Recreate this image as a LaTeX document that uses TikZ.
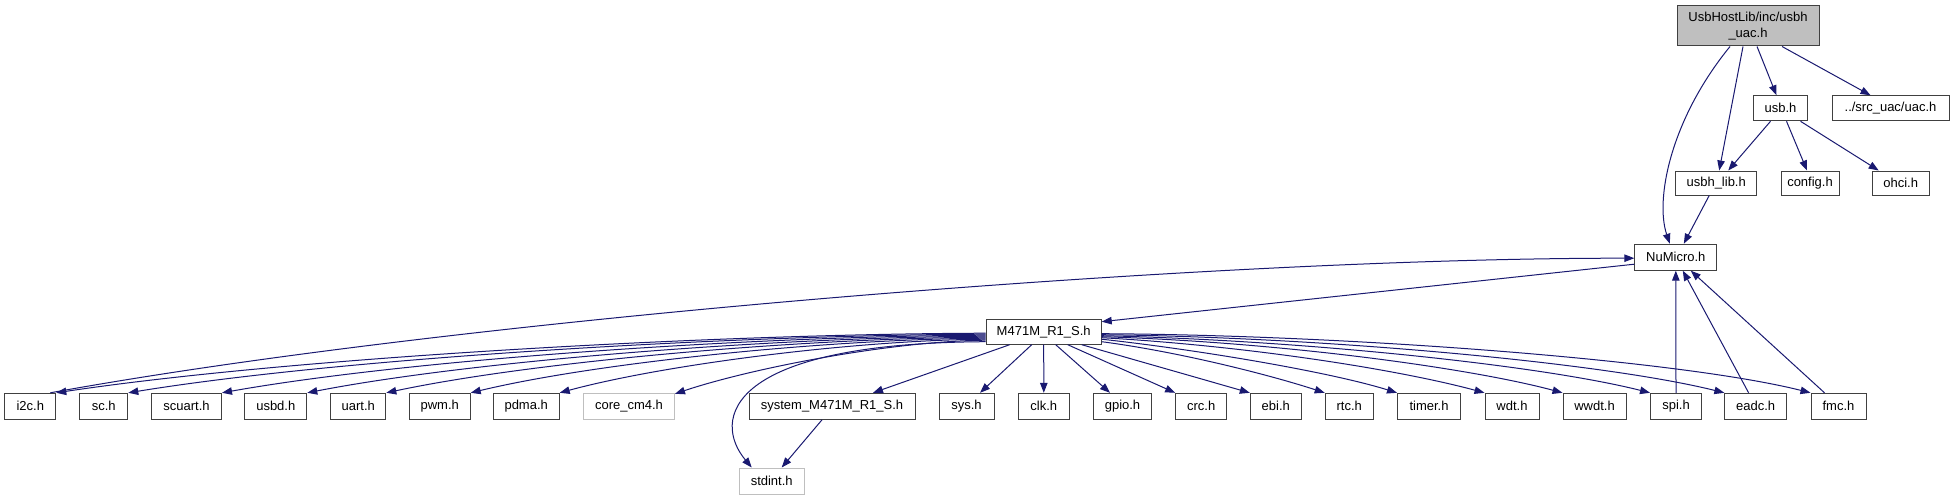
\documentclass[tikz,border=0pt]{standalone}
\usepackage{fontspec}
\setmainfont{Liberation Sans}
\usetikzlibrary{arrows.meta,calc}
\definecolor{edgec}{HTML}{191970}
\definecolor{boxc}{HTML}{404040}
\definecolor{lightc}{HTML}{BFBFBF}
\begin{document}
\begin{tikzpicture}[x=1pt,y=-1pt,
  box/.style={draw=boxc, fill=white, line width=1pt, inner sep=0pt, minimum height=26pt, font=\fontsize{13}{16}\selectfont},
  boxg/.style={box, draw=lightc},
  rootbox/.style={box, fill=lightc, align=center, minimum height=40pt},
  dep/.style={draw=edgec, line width=1pt, -{Triangle[length=10pt,width=7.5pt]}}]
\useasboundingbox (0,0) rectangle (1954,500);
% top part
\node[rootbox, minimum width=142pt] (root) at (1748,26) {UsbHostLib/inc/usbh\\\_uac.h};
\node[box, minimum width=54pt, minimum height=25pt] (usb) at (1780.5,108.3) {usb.h};
\node[box, minimum width=117pt, minimum height=25pt] (uac) at (1890.5,108.3) {../src\_uac/uac.h};
\node[box, minimum width=81pt, minimum height=24pt] (usbhlib) at (1716.2,183) {usbh\_lib.h};
\node[box, minimum width=58pt, minimum height=24pt] (config) at (1810,183) {config.h};
\node[box, minimum width=57pt, minimum height=24pt] (ohci) at (1900.7,183) {ohci.h};
\node[box, minimum width=82pt] (numicro) at (1675.8,257.2) {NuMicro.h};
\node[box, minimum width=115pt, minimum height=25pt] (m471) at (1043.7,331.7) {M471M\_R1\_S.h};
% bottom row
\node[box, minimum width=51pt] (i2c) at (30.3,406.3) {i2c.h};
\node[box, minimum width=48pt] (sc) at (103.8,406.3) {sc.h};
\node[box, minimum width=70pt] (scuart) at (186.5,406.3) {scuart.h};
\node[box, minimum width=62pt] (usbd) at (275.8,406.3) {usbd.h};
\node[box, minimum width=55pt] (uart) at (358.3,406.3) {uart.h};
\node[box, minimum width=61pt] (pwm) at (439.7,406.3) {pwm.h};
\node[box, minimum width=66pt] (pdma) at (526.2,406.3) {pdma.h};
\node[boxg, minimum width=91pt] (core) at (629,406.3) {core\_cm4.h};
\node[box, minimum width=166pt] (system) at (832,406.3) {system\_M471M\_R1\_S.h};
\node[box, minimum width=55pt] (sys) at (966.5,406.3) {sys.h};
\node[box, minimum width=51pt] (clk) at (1043.8,406.3) {clk.h};
\node[box, minimum width=58pt] (gpio) at (1122.5,406.3) {gpio.h};
\node[box, minimum width=51pt] (crc) at (1201.2,406.3) {crc.h};
\node[box, minimum width=51pt] (ebi) at (1275.8,406.3) {ebi.h};
\node[box, minimum width=48pt] (rtc) at (1349.2,406.3) {rtc.h};
\node[box, minimum width=63pt] (timer) at (1429,406.3) {timer.h};
\node[box, minimum width=54pt] (wdt) at (1512,406.3) {wdt.h};
\node[box, minimum width=63pt] (wwdt) at (1594.5,406.3) {wwdt.h};
\node[box, minimum width=51pt] (spi) at (1676,406.3) {spi.h};
\node[box, minimum width=61.5pt] (eadc) at (1755.6,406.3) {eadc.h};
\node[box, minimum width=55pt] (fmc) at (1838.5,406.3) {fmc.h};
\node[boxg, minimum width=65pt] (stdint) at (771.7,481) {stdint.h};
% top edges
\draw[dep] ($(root.south)+(-18,0)$) .. controls (1670,120) and (1655,200) .. ($(numicro.north)+(-6,0)$);
\draw[dep] ($(root.south)+(-5,0)$) -- ($(usbhlib.north)+(3,0)$);
\draw[dep] ($(root.south)+(9,0)$) -- ($(usb.north)+(-4,0)$);
\draw[dep] ($(root.south)+(34,0)$) -- ($(uac.north)+(-20,0)$);
\draw[dep] ($(usb.south)+(-10,0)$) -- ($(usbhlib.north)+(12,0)$);
\draw[dep] ($(usb.south)+(6,0)$) -- ($(config.north)+(-3,0)$);
\draw[dep] ($(usb.south)+(20,0)$) -- ($(ohci.north)+(-22,0)$);
\draw[dep] ($(usbhlib.south)+(-7,0)$) -- ($(numicro.north)+(8,0)$);
\draw[dep] ($(numicro.west)+(0,7)$) -- ($(m471.east)+(0,-10)$);
\draw[dep] ($(i2c.north east)+(-6,0)$) .. controls (450,320) and (1200,258) .. ($(numicro.west)+(0,1)$);
\draw[dep] (spi.north) -- (numicro.south);
\draw[dep] ($(eadc.north)+(-7,0)$) -- ($(numicro.south)+(7,0)$);
\draw[dep] ($(fmc.north)+(-14,0)$) -- ($(numicro.south)+(15,0)$);
% M471M to left
\draw[dep] ($(m471.west)+(0,1.5)$) .. controls (707,334) and (288,358) .. (i2c.north east);
\draw[dep] ($(m471.west)+(0,2.5)$) .. controls (729,335) and (342,358) .. (sc.north east);
\draw[dep] ($(m471.west)+(0,3.5)$) .. controls (756,336) and (412,359) .. (scuart.north east);
\draw[dep] ($(m471.west)+(0,4.5)$) .. controls (782,337) and (476,360) .. (usbd.north east);
\draw[dep] ($(m471.west)+(0,5.5)$) .. controls (806,338) and (536,361) .. (uart.north east);
\draw[dep] ($(m471.west)+(0,6.5)$) .. controls (831,339) and (599,362) .. (pwm.north east);
\draw[dep] ($(m471.west)+(0,7.5)$) .. controls (858,340) and (666,364) .. (pdma.north east);
\draw[dep] ($(m471.west)+(0,8.5)$) .. controls (892,341) and (752,368) .. ($(core.north east)+(0,1)$);
\draw[dep] ($(m471.west)+(0,10)$) .. controls (725,343) and (712,420) .. ($(stdint.north)+(-20,0)$);
\draw[dep] ($(m471.south west)+(24,0)$) -- ($(system.north)+(41,0)$);
\draw[dep] ($(m471.south)+(-12,0)$) -- ($(sys.north)+(13.5,0)$);
\draw[dep] (m471.south) -- (clk.north);
\draw[dep] ($(m471.south)+(12,0)$) -- ($(gpio.north)+(-12.5,0)$);
\draw[dep] ($(m471.south)+(24,0)$) -- (crc.north west);
\draw[dep] ($(m471.south east)+(-20,0)$) -- (ebi.north west);
% M471M to right
\draw[dep] ($(m471.east)+(0,10)$) .. controls (1180,352) and (1270,375) .. (rtc.north west);
\draw[dep] ($(m471.east)+(0,7.5)$) .. controls (1200,350) and (1330,372) .. (timer.north west);
\draw[dep] ($(m471.east)+(0,6)$) .. controls (1250,346) and (1400,370) .. (wdt.north west);
\draw[dep] ($(m471.east)+(0,5)$) .. controls (1280,342) and (1470,368) .. (wwdt.north west);
\draw[dep] ($(m471.east)+(0,4)$) .. controls (1300,340) and (1540,365) .. (spi.north west);
\draw[dep] ($(m471.east)+(0,3)$) .. controls (1320,337) and (1600,362) .. (eadc.north west);
\draw[dep] ($(m471.east)+(0,2)$) .. controls (1350,335) and (1680,360) .. (fmc.north west);
\draw[dep] ($(system.south)+(-10,0)$) -- ($(stdint.north)+(10,0)$);
\end{tikzpicture}
\end{document}
